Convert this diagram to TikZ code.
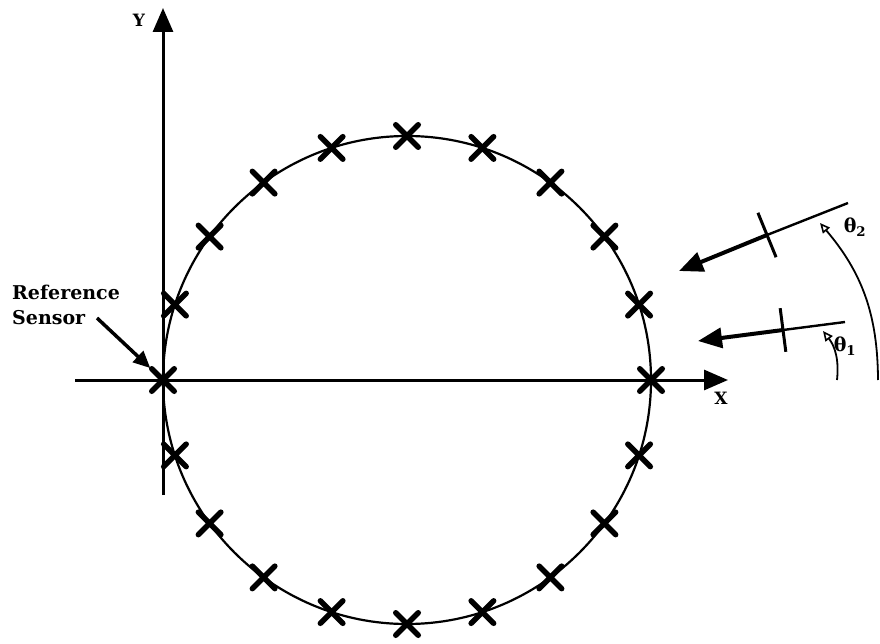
\documentclass[tikz,border=0pt]{standalone}
\usepackage{fontspec}
\setmainfont{DejaVu Serif}
\usetikzlibrary{arrows.meta, calc, shapes.misc}

\begin{document}
\begin{tikzpicture}[x=1pt, y=-1pt,
                sensor/.style={cross out,
                draw,
                line width=5.5pt,
                line cap=round,
                minimum size=17pt,
                inner sep=0pt},
                axis/.style={line width=3pt, -{Triangle[length=24pt,width=20pt]}},
                ring/.style={line width=2.2pt},
                wave/.style={line width=4pt, -{Triangle[length=24pt,width=20pt]}},
                ray/.style={line width=2.4pt},
                tickm/.style={line width=3pt},
                angarc/.style={line width=1.8pt,
                  -{Triangle[open,length=10pt,width=9pt,line width=1.6pt]}},
                ptr/.style={line width=3.5pt, shorten >=2pt,
                  -{Triangle[length=17pt,width=15pt]}},
                lbl/.style={font=\bfseries\fontsize{19}{25}\selectfont,
                  align=left, inner sep=0pt},
                axlbl/.style={font=\bfseries\fontsize{17}{17}\selectfont, inner sep=0pt},
                anglbl/.style={font=\bfseries\fontsize{19}{19}\selectfont, inner sep=0pt}]
                \useasboundingbox (0,0) rectangle (880,644);
                \coordinate (c) at (407,380);
                % axes
                \coordinate (xo) at (75,380);
                \coordinate (xe) at (728,380);
                \coordinate (yo) at (163,495);
                \coordinate (ye) at (163,8);
                \draw[axis] (xo) -- (xe);
                \draw[axis] (yo) -- (ye);
                \node[axlbl] (xlbl) at (721,398) {X};
                \node[axlbl] (ylbl) at (139,20) {Y};
                % array of sensors
                \draw[ring] (c) circle[radius=244];
                \foreach \k in {0,...,19}
                    \node[sensor] (s\k) at ($(c)+(18*\k:244)$) {};
                \node[lbl, anchor=west] (reflbl) at (12,305) {Reference\\Sensor};
                \coordinate (ptrs) at (97,318);
                \draw[ptr] (ptrs) -- (s10);
                % incoming waves
                \coordinate (w1tail) at (845,322);
                \coordinate (w1tick) at (783,330);
                \coordinate (w1head) at (698,341);
                \coordinate (w2tail) at (848,203);
                \coordinate (w2tick) at (767,235);
                \coordinate (w2head) at (679,271);
                \draw[ray] (w1tail) -- (w1tick);
                \draw[wave] (w1tick) -- (w1head);
                \draw[ray] (w2tail) -- (w2tick);
                \draw[wave] (w2tick) -- (w2head);
                \draw[tickm] ($(w1tick)!22pt!90:(w1head)$) -- ($(w1tick)!22pt!-90:(w1head)$);
                \draw[tickm] ($(w2tick)!24pt!90:(w2head)$) -- ($(w2tick)!24pt!-90:(w2head)$);
                % angles
                \coordinate (a1s) at (837,380);
                \coordinate (a1e) at (823,331);
                \coordinate (a2s) at (878,380);
                \coordinate (a2e) at (820,223);
                \draw[angarc] (a1s) to[bend right=22] (a1e);
                \draw[angarc] (a2s) to[bend right=20] (a2e);
                \node[anglbl] (th1) at (845,346) {θ\textsubscript{1}};
                \node[anglbl] (th2) at (855,227) {θ\textsubscript{2}};
            \end{tikzpicture}
\end{document}
